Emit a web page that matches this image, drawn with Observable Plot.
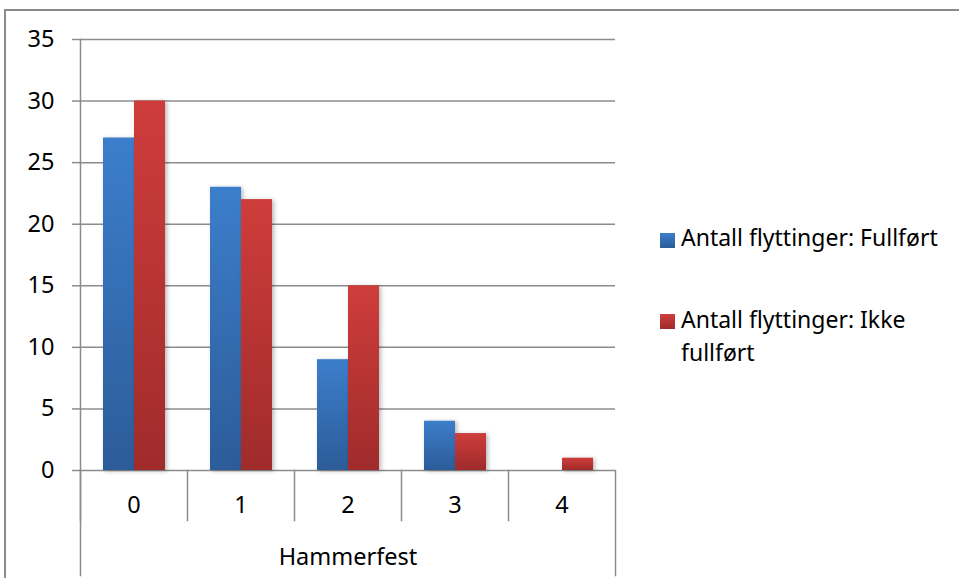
<!DOCTYPE html>
<html>
<head>
<meta charset="utf-8">
<script src="https://cdn.jsdelivr.net/npm/d3@7"></script>
<script src="https://cdn.jsdelivr.net/npm/@observablehq/plot@0.6"></script>
<style>
  html, body { margin: 0; padding: 0; background: #fff; }
  #wrap { position: relative; width: 959px; height: 578px; overflow: hidden; font-family: "Noto Sans", sans-serif; }
  #border { position: absolute; left: 4px; top: 9px; right: -2px; bottom: -2px; border-left: 2px solid #8a8a8a; border-top: 2px solid #8a8a8a; }
  #chart { position: absolute; left: 0; top: 0; }
  #chart svg text { font-size: 23.5px; }
  g[aria-label="bar"] rect { filter: drop-shadow(2px 1px 2px rgba(0,0,0,0.28)); }
  .leg { position: absolute; font-size: 23px; line-height: 33px; color: #000; }
  .sw { position: absolute; width: 15px; height: 15px; }
</style>
</head>
<body>
<svg width="0" height="0" style="position:absolute">
  <defs>
    <linearGradient id="gBlue" x1="0" y1="0" x2="0" y2="1">
      <stop offset="0" stop-color="#3c7ecb"/>
      <stop offset="1" stop-color="#2c5c99"/>
    </linearGradient>
    <linearGradient id="gRed" x1="0" y1="0" x2="0" y2="1">
      <stop offset="0" stop-color="#ce3d3b"/>
      <stop offset="1" stop-color="#a02b2b"/>
    </linearGradient>
  </defs>
</svg>
<div id="wrap">
  <div id="chart"></div>
  <div id="border"></div>
  <div id="legend"></div>
</div>
<script>
const categories = ["0", "1", "2", "3", "4"];
const series = ["Antall flyttinger: Fullført", "Antall flyttinger: Ikke fullført"];
const fullfort = [27, 23, 9, 4, 0];
const ikkeFullfort = [30, 22, 15, 3, 1];
const yTicks = [0, 5, 10, 15, 20, 25, 30, 35];
const groupLabel = "Hammerfest";
const fills = ["url(#gBlue)", "url(#gRed)"];

const data = categories.flatMap((c, i) => [
  {cat: c, series: series[0], value: fullfort[i]},
  {cat: c, series: series[1], value: ikkeFullfort[i]}
]);

const gray = "#8c8c8c";

const chart = Plot.plot({
  width: 959,
  height: 578,
  marginLeft: 78,
  marginRight: 342,
  marginTop: 39,
  marginBottom: 108,
  style: {fontFamily: "'Noto Sans', sans-serif", fontSize: "23px", color: "#000", background: "transparent"},
  fx: {domain: categories, padding: 0, label: null, axis: null},
  x: {domain: series, paddingInner: 0, paddingOuter: 0.7, axis: null},
  y: {domain: [0, 35], axis: null, label: null},
  color: {domain: series, range: fills},
  marks: [
    Plot.gridY(yTicks, {stroke: gray, strokeOpacity: 1, strokeWidth: 1.5}),
    Plot.barY(data, {fx: "cat", x: "series", y: "value", fill: "series"}),
    Plot.axisY(yTicks, {tickSize: 8, tickPadding: 18, stroke: gray, strokeWidth: 1.5, fontSize: 23, label: null}),
    Plot.axisFx({anchor: "bottom", tickSize: 0, tickPadding: 26, fontSize: 23, label: groupLabel, labelAnchor: "center", labelOffset: 94}),
    Plot.frame({anchor: "left", stroke: gray, strokeWidth: 1.5, insetTop: 431, insetBottom: -50}),
    Plot.frame({anchor: "left", facet: "super", stroke: gray, strokeWidth: 1.5, insetBottom: -105}),
    Plot.frame({anchor: "right", facet: "super", stroke: gray, strokeWidth: 1.5, insetTop: 431, insetBottom: -105})
  ]
});
document.getElementById("chart").appendChild(chart);

// Legend
const legend = document.getElementById("legend");
const legendItems = [
  {label: series[0], grad: "linear-gradient(#3c7ecb, #2c5c99)", swTop: 233, textTop: 221},
  {label: series[1], grad: "linear-gradient(#ce3d3b, #a02b2b)", swTop: 314, textTop: 303}
];
legendItems.forEach(d => {
  const sw = document.createElement("div");
  sw.className = "sw";
  sw.style.left = "660px";
  sw.style.top = d.swTop + "px";
  sw.style.background = d.grad;
  legend.appendChild(sw);
  const t = document.createElement("div");
  t.className = "leg";
  t.style.left = "681px";
  t.style.top = d.textTop + "px";
  t.style.width = "272px";
  t.textContent = d.label;
  legend.appendChild(t);
});
</script>
</body>
</html>
